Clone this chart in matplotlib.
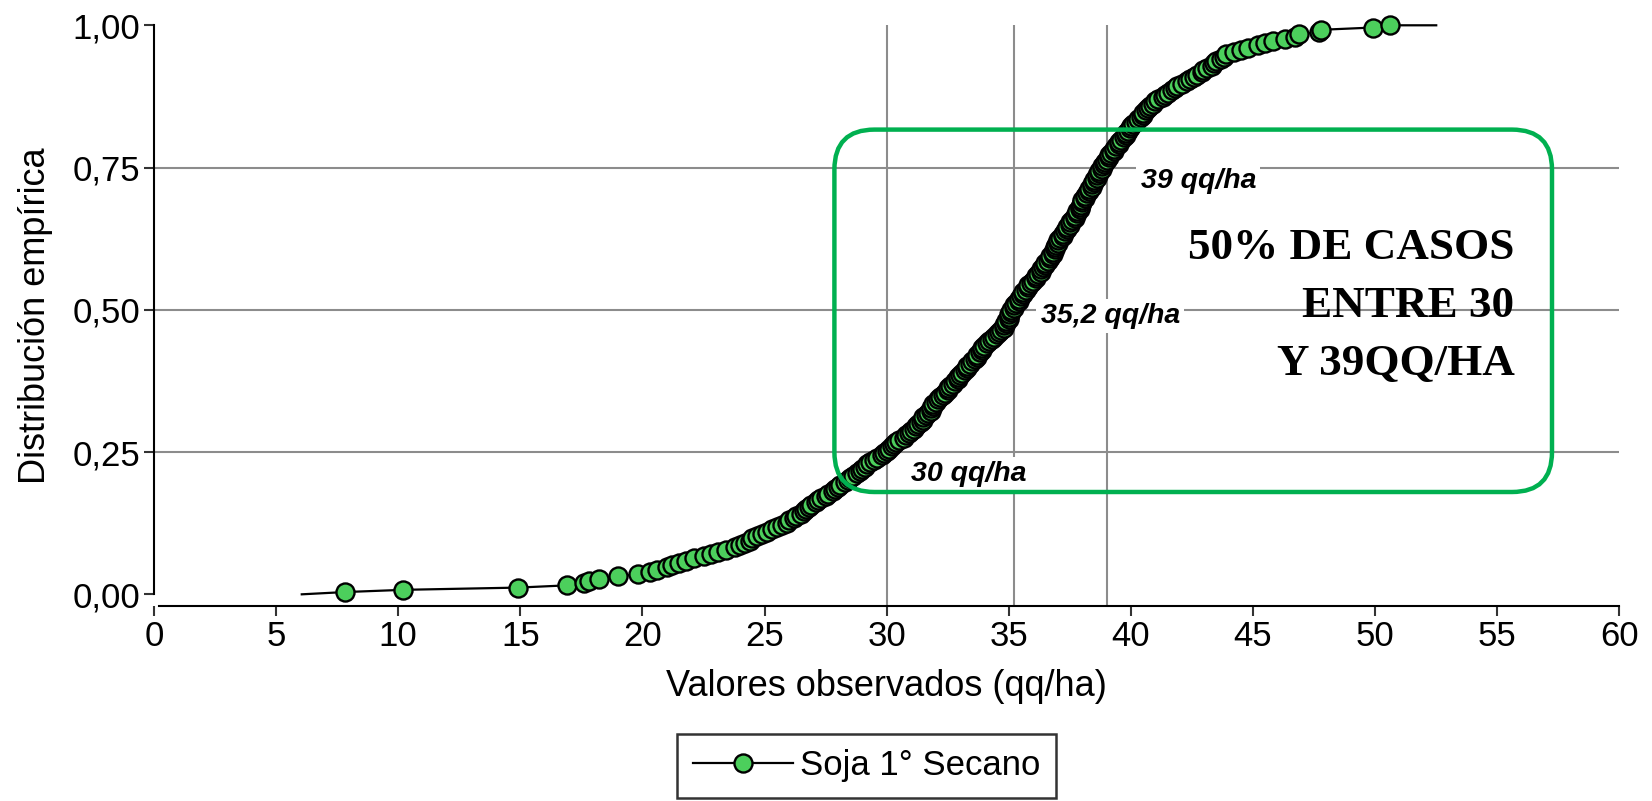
import matplotlib
matplotlib.use("Agg")
import matplotlib.pyplot as plt
import numpy as np
from matplotlib.patches import FancyBboxPatch
from matplotlib.transforms import IdentityTransform

plt.rcParams['font.family'] = ['Liberation Sans', 'DejaVu Sans']

# ---------------- data ----------------
observed = [
    7.8, 10.2, 14.9, 16.9, 17.6, 17.8, 18.2, 19.0, 19.8,
    20.3, 20.6,
    21.0, 21.2, 21.5, 21.8,
    22.1, 22.5, 22.8,
    23.1, 23.4, 23.8,
    24.0, 24.2, 24.4, 24.5, 24.7, 24.9,
    25.1, 25.3, 25.5, 25.7, 25.9,
    26.0, 26.2, 26.3, 26.5, 26.6, 26.7, 26.8, 26.9,
    27.1, 27.2, 27.3, 27.5, 27.6, 27.8, 27.9,
    28.0, 28.1, 28.3, 28.4, 28.5, 28.6, 28.8, 28.9,
    29.0, 29.1, 29.2, 29.3, 29.5, 29.6, 29.8, 29.9,
    30.0, 30.1, 30.2, 30.3, 30.4, 30.5, 30.7, 30.8, 30.9,
    31.0, 31.1, 31.2, 31.3, 31.4, 31.5, 31.5, 31.6, 31.7, 31.8, 31.8, 31.9, 31.9,
    32.0, 32.1, 32.2, 32.3, 32.4, 32.5, 32.5, 32.6, 32.7, 32.8, 32.9, 32.9,
    33.0, 33.1, 33.2, 33.3, 33.3, 33.4, 33.5, 33.6, 33.7, 33.7, 33.8, 33.9, 33.9,
    34.0, 34.1, 34.2, 34.3, 34.4, 34.5, 34.6, 34.7, 34.8, 34.8, 34.9, 34.9,
    35.0, 35.0, 35.0, 35.1, 35.1, 35.2, 35.2, 35.3, 35.4, 35.4, 35.5, 35.6, 35.6,
    35.7, 35.8, 35.8, 35.9,
    36.0, 36.1, 36.1, 36.2, 36.3, 36.3, 36.4, 36.5, 36.5, 36.6, 36.7, 36.7, 36.8,
    36.8, 36.9, 36.9, 36.95,
    37.0, 37.0, 37.1, 37.2, 37.2, 37.3, 37.4, 37.4, 37.5, 37.5, 37.6, 37.7, 37.7,
    37.8, 37.8, 37.9, 37.9, 37.95,
    38.0, 38.0, 38.1, 38.1, 38.2, 38.3, 38.3, 38.4, 38.4, 38.5, 38.5, 38.6, 38.6,
    38.7, 38.7, 38.8, 38.8, 38.9, 38.95,
    39.0, 39.1, 39.1, 39.2, 39.3, 39.3, 39.4, 39.5, 39.5, 39.6, 39.7, 39.8, 39.8,
    39.9, 39.95,
    40.0, 40.1, 40.2, 40.3, 40.4, 40.5, 40.5, 40.6, 40.7, 40.8, 40.9,
    41.0, 41.1, 41.3, 41.4, 41.5, 41.7, 41.8, 41.9,
    42.1, 42.3, 42.4, 42.6, 42.7, 42.9, 42.95,
    43.1, 43.3, 43.4, 43.5, 43.7, 43.8, 43.9,
    44.2, 44.5, 44.8,
    45.2, 45.5, 45.8,
    46.3, 46.7, 46.9,
    47.7, 47.8, 49.9, 50.6,
]
line_start = 6.05
line_end = 52.5

ref_values = [30.0, 35.2, 39.0]
ref_labels = ["30 qq/ha", "35,2 qq/ha", "39 qq/ha"]
ref_label_pos = [(31.0, 0.211), (36.3, 0.489), (40.4, 0.726)]

note_lines = ["50% DE CASOS", "ENTRE 30", "Y 39QQ/HA"]

series_name = "Soja 1° Secano"
xticks = list(range(0, 61, 5))
yticks = [0.0, 0.25, 0.5, 0.75, 1.0]

# ---------------- figure ----------------
W, H = 1652, 801
fig = plt.figure(figsize=(W / 100, H / 100), dpi=100)
ax = fig.add_axes([154 / W, 1 - 605.7 / H, (1619.4 - 154) / W, (605.7 - 25.3) / H])

xs = np.sort(np.array(observed))
n = len(xs)
ecdf = np.arange(1, n + 1) / n

green = '#4CCF5C'
grid_c = '#8c8c8c'
msize = 13
mew = 1.7

for yv in [0.25, 0.5, 0.75]:
    ax.hlines(yv, 0, 60, color=grid_c, lw=1.5, zorder=1)
ax.vlines(ref_values, -0.02, 1.0, color=grid_c, lw=1.5, zorder=1)

line_x = np.concatenate([[line_start], xs, [line_end]])
line_y = np.concatenate([[0.0], ecdf, [1.0]])
ax.plot(line_x, line_y, color='black', lw=1.6, zorder=3, clip_on=False)
ax.plot(xs, ecdf, linestyle='none', marker='o', markersize=msize,
        markerfacecolor=green, markeredgecolor='black', markeredgewidth=mew,
        zorder=4, clip_on=False)
# legend proxy
ax.plot([], [], color='black', lw=1.6, marker='o', markersize=msize,
        markerfacecolor=green, markeredgecolor='black', markeredgewidth=mew,
        label=series_name)

for lab, (lx, ly) in zip(ref_labels, ref_label_pos):
    ax.text(lx, ly, lab, ha='left', va='center', fontsize=20.5,
            fontweight='bold', fontstyle='italic', zorder=5,
            bbox=dict(facecolor='white', edgecolor='none', pad=3))

note_y = [0.609, 0.507, 0.405]
for t, yy in zip(note_lines, note_y):
    ax.text(55.7, yy, t, ha='right', va='center', fontsize=32.5,
            fontweight='bold', family=['Liberation Serif', 'DejaVu Serif'],
            zorder=6)

ax.set_xlim(0, 60)
ax.set_ylim(-0.02, 1.0)
ax.set_xticks(xticks)
ax.set_xticklabels([str(v) for v in xticks])
ax.set_yticks(yticks)
ax.set_yticklabels([f"{v:.2f}".replace('.', ',') for v in yticks])
ax.tick_params(axis='both', labelsize=25, length=7, width=1.5, color='#333333',
               direction='out', pad=3)
for s in ['top', 'right']:
    ax.spines[s].set_visible(False)
ax.spines['left'].set_bounds(0, 1.0)
ax.spines['left'].set_linewidth(1.5)
ax.spines['bottom'].set_linewidth(1.5)
ax.spines['bottom'].set_bounds(0.2, 60)

ax.set_xlabel("Valores observados (qq/ha)", fontsize=26, labelpad=12)
ax.set_ylabel("Distribución empírica", fontsize=26, labelpad=14)

leg = ax.legend(loc='center', bbox_to_anchor=(866.6 / W, 1 - 766 / H),
                bbox_transform=fig.transFigure, fontsize=25, frameon=True,
                fancybox=False, edgecolor='black', handlelength=2.9,
                handletextpad=0.2, borderpad=0.45, borderaxespad=0)
leg.get_frame().set_linewidth(1.8)

box = FancyBboxPatch((834.4, 309), 717.6, 362.4,
                     boxstyle="round,pad=0,rounding_size=40",
                     transform=IdentityTransform(), facecolor='none',
                     edgecolor='#00B050', linewidth=3.2, zorder=10)
fig.add_artist(box)

fig.savefig("out.png", dpi=100)
